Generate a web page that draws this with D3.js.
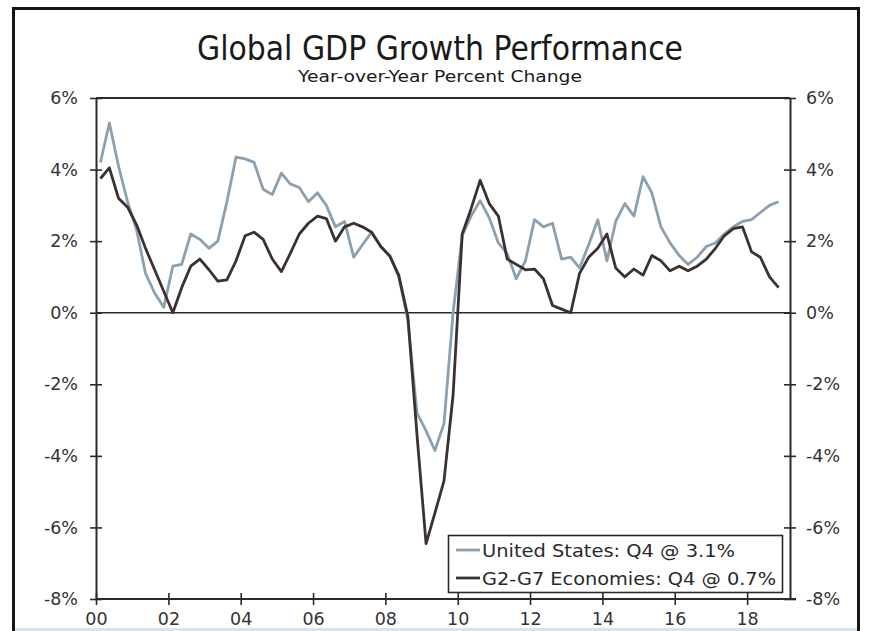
<!DOCTYPE html>
<html>
<head>
<meta charset="utf-8">
<script src="https://cdn.jsdelivr.net/npm/d3@7"></script>
<style>
  html, body { margin: 0; padding: 0; background: #fff; }
  svg { display: block; }
</style>
</head>
<body>
<svg id="chart" width="871" height="631"></svg>
<script>
// Year-over-year real GDP growth, quarterly 2000 Q1 – 2018 Q4 (percent)
const quarters = d3.range(76).map(i => new Date(2000 + Math.floor(i / 4), (i % 4) * 3 + 1, 15));

const usGrowth = [
  4.2, 5.3, 4.1, 3.1,   2.3, 1.1, 0.55, 0.15,  1.3, 1.35, 2.2, 2.05,  1.8, 2.0, 3.1, 4.35,
  4.3, 4.2, 3.45, 3.3,  3.9, 3.6, 3.5, 3.1,    3.35, 3.0, 2.4, 2.55,  1.55, 1.9, 2.25, 1.85,
  1.6, 1.0, -0.2, -2.8, -3.3, -3.85, -3.1, 0.0, 2.15, 2.7, 3.13, 2.65, 1.95, 1.65, 0.95, 1.45,
  2.6, 2.4, 2.5, 1.5,   1.55, 1.25, 1.9, 2.6,  1.45, 2.55, 3.05, 2.7,  3.8, 3.35, 2.4, 1.95,
  1.6, 1.35, 1.55, 1.85, 1.95, 2.2, 2.4, 2.55,  2.6, 2.8, 3.0, 3.1
];

const g2g7Growth = [
  3.75, 4.05, 3.2, 2.95, 2.45, 1.8, 1.2, 0.6,  0.0, 0.7, 1.3, 1.5,    1.2, 0.88, 0.92, 1.45,
  2.15, 2.25, 2.05, 1.5, 1.15, 1.65, 2.2, 2.5, 2.7, 2.63, 2.0, 2.4,   2.5, 2.4, 2.25, 1.85,
  1.58, 1.05, -0.1, -3.4, -6.45, -5.6, -4.7, -2.3, 2.2, 2.9, 3.7, 3.05, 2.7, 1.5, 1.35, 1.2,
  1.22, 0.95, 0.2, 0.1, 0.0, 1.1, 1.55, 1.8,  2.2, 1.25, 1.0, 1.22,   1.05, 1.6, 1.45, 1.17,
  1.3, 1.17, 1.3, 1.5,  1.8, 2.15, 2.35, 2.4,  1.7, 1.55, 1.0, 0.7
];

const yTicks = [6, 4, 2, 0, -2, -4, -6, -8];
const xTickYears = [2000, 2002, 2004, 2006, 2008, 2010, 2012, 2014, 2016, 2018];

const seriesNames = ["United States: Q4 @ 3.1%", "G2-G7 Economies: Q4 @ 0.7%"];
const seriesColors = ["#8ba0b1", "#3a3230"];
const titleText = "Global GDP Growth Performance";
const subtitleText = "Year-over-Year Percent Change";

// ---- layout ----
const plot = { left: 96, right: 790, top: 98, bottom: 599 };
const svg = d3.select("#chart");
const fontFamily = "'DejaVu Sans', Verdana, sans-serif";

const x = d3.scaleTime()
  .domain([new Date(2000, 0, 1), new Date(2019, 2, 10)])
  .range([plot.left, plot.right]);
const y = d3.scaleLinear().domain([-8, 6]).range([plot.bottom, plot.top]);

// outer frame
svg.append("rect")
  .attr("x", 13.5).attr("y", 8.5).attr("width", 845).attr("height", 640)
  .attr("fill", "none").attr("stroke", "#151515").attr("stroke-width", 3);
svg.append("rect")
  .attr("x", 15).attr("y", 628).attr("width", 842).attr("height", 3)
  .attr("fill", "#d7e4ef");

// helper: squeeze/stretch a text run to a target width
function fitWidth(sel, w) {
  sel.each(function () {
    const len = this.getComputedTextLength();
    if (len > 0) d3.select(this).attr("textLength", w).attr("lengthAdjust", "spacingAndGlyphs");
  });
}

// titles
svg.append("text")
  .attr("x", 440).attr("y", 60).attr("text-anchor", "middle")
  .attr("font-family", fontFamily).attr("font-size", 33).attr("fill", "#1a1a1a")
  .text(titleText).call(fitWidth, 486);
svg.append("text")
  .attr("x", 440).attr("y", 82).attr("text-anchor", "middle")
  .attr("font-family", fontFamily).attr("font-size", 15.5).attr("fill", "#1a1a1a")
  .text(subtitleText).call(fitWidth, 284);

// axes
const axisColor = "#2a2a2a";
function styleAxis(g) {
  g.select(".domain").attr("stroke", axisColor).attr("stroke-width", 2);
  g.selectAll(".tick line").attr("stroke", axisColor).attr("stroke-width", 1.6);
  g.selectAll(".tick text")
    .attr("font-family", fontFamily).attr("font-size", 17.5).attr("fill", "#333");
}

const leftAxis = svg.append("g")
  .attr("transform", `translate(${plot.left},0)`)
  .call(d3.axisLeft(y).tickValues(yTicks).tickFormat(d => d + "%").tickSize(6).tickSizeOuter(0).tickPadding(12));
styleAxis(leftAxis);
leftAxis.selectAll(".tick line").attr("x1", 6);

const rightAxis = svg.append("g")
  .attr("transform", `translate(${plot.right},0)`)
  .call(d3.axisRight(y).tickValues(yTicks).tickFormat(d => d + "%").tickSize(6).tickSizeOuter(0).tickPadding(10));
styleAxis(rightAxis);
rightAxis.selectAll(".tick line").attr("x1", -6);

const bottomAxis = svg.append("g")
  .attr("transform", `translate(0,${plot.bottom})`)
  .call(d3.axisBottom(x)
    .tickValues(xTickYears.map(yr => new Date(yr, 0, 1)))
    .tickFormat(d3.timeFormat("%y"))
    .tickSize(6).tickSizeOuter(0).tickPadding(8));
styleAxis(bottomAxis);
bottomAxis.select(".domain").attr("d", `M${plot.left},0H${plot.right + 6}`);
bottomAxis.selectAll(".tick line").attr("y1", -6);

// top frame line and zero line
svg.append("line")
  .attr("x1", plot.left).attr("x2", plot.right).attr("y1", plot.top).attr("y2", plot.top)
  .attr("stroke", axisColor).attr("stroke-width", 2);
svg.append("line")
  .attr("x1", plot.left).attr("x2", plot.right).attr("y1", y(0)).attr("y2", y(0))
  .attr("stroke", axisColor).attr("stroke-width", 1.4);

// series
const line = d3.line().x((d, i) => x(quarters[i])).y(d => y(d));
[usGrowth, g2g7Growth].forEach((vals, k) => {
  svg.append("path")
    .datum(vals)
    .attr("d", line)
    .attr("fill", "none")
    .attr("stroke", seriesColors[k])
    .attr("stroke-width", 2.8)
    .attr("stroke-linejoin", "round");
});

// legend
const legend = svg.append("g");
legend.append("rect")
  .attr("x", 448.5).attr("y", 535.5).attr("width", 334).attr("height", 57)
  .attr("fill", "#fff").attr("stroke", axisColor).attr("stroke-width", 1.6);
const legendWidths = [253, 294];
seriesNames.forEach((name, k) => {
  const cy = 550 + k * 28;
  legend.append("line")
    .attr("x1", 456).attr("x2", 480).attr("y1", cy).attr("y2", cy)
    .attr("stroke", seriesColors[k]).attr("stroke-width", 2.8);
  legend.append("text")
    .attr("x", 482).attr("y", cy + 6.5)
    .attr("font-family", fontFamily).attr("font-size", 17).attr("fill", "#2a2a2a")
    .text(name).call(fitWidth, legendWidths[k]);
});
</script>
</body>
</html>
